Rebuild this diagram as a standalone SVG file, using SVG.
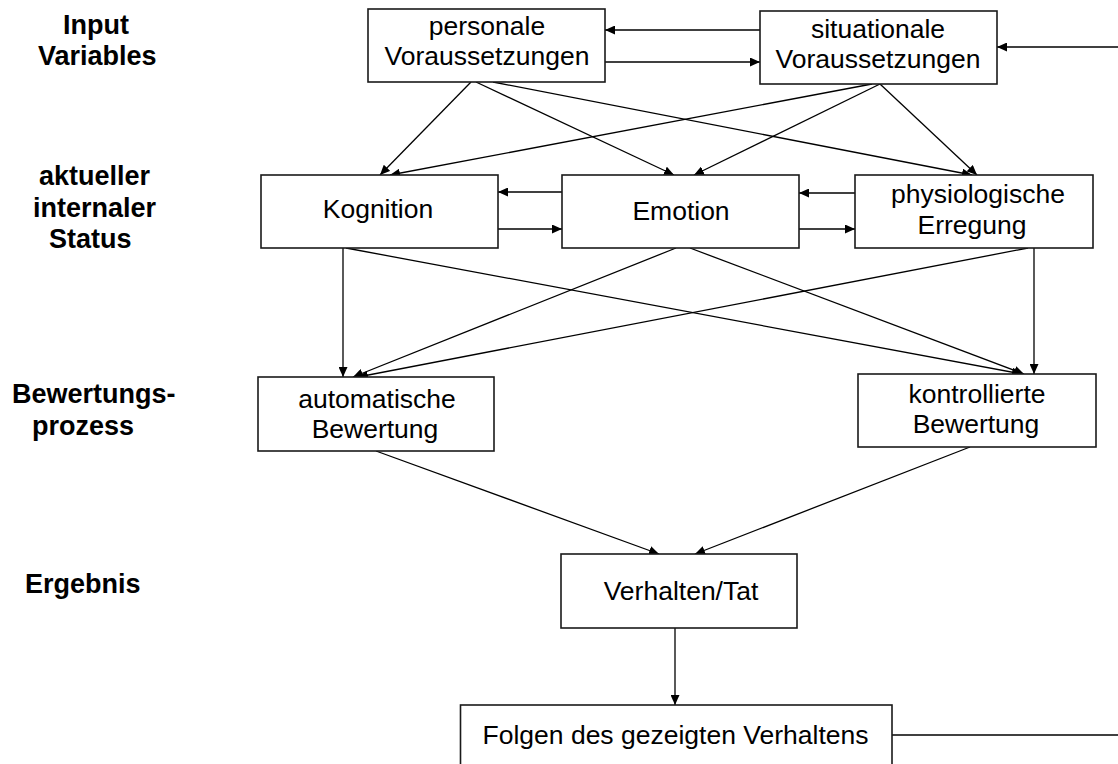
<svg xmlns="http://www.w3.org/2000/svg" width="1118" height="764" viewBox="0 0 1118 764">
<style>
.box{fill:#fff;stroke:#1a1a1a;stroke-width:1.6}
.t{font-family:"Liberation Sans",Arial,sans-serif;font-size:26.5px;fill:#000;text-anchor:middle}
.lbl{font-family:"Liberation Sans",Arial,sans-serif;font-size:27px;font-weight:bold;fill:#000}
.c{fill:none;stroke:#000;stroke-width:1.3}
.a{marker-end:url(#ah)}
</style>
<defs>
<marker id="ah" markerUnits="userSpaceOnUse" markerWidth="10" markerHeight="9" refX="10" refY="4.5" orient="auto">
<path d="M0,0 L10,4.5 L0,9 z" fill="#000"/>
</marker>
</defs>
<rect width="1118" height="764" fill="#fff"/>
<g id="labels">
<text class="lbl" x="63" y="34">Input</text>
<text class="lbl" x="38" y="65">Variables</text>
<text class="lbl" x="39" y="185">aktueller</text>
<text class="lbl" x="33" y="217">internaler</text>
<text class="lbl" x="49" y="248">Status</text>
<text class="lbl" x="12" y="403">Bewertungs-</text>
<text class="lbl" x="32" y="435">prozess</text>
<text class="lbl" x="25" y="593">Ergebnis</text>
</g>
<g id="connectors">
<line class="c a" x1="760" y1="30" x2="605" y2="30"/>
<line class="c a" x1="605" y1="62" x2="760" y2="62"/>
<line class="c a" x1="1118" y1="47" x2="997" y2="47"/>
<line class="c a" x1="471" y1="82" x2="380" y2="175"/>
<line class="c a" x1="476" y1="82" x2="674" y2="175"/>
<line class="c a" x1="493" y1="82" x2="972" y2="175"/>
<line class="c a" x1="872" y1="84" x2="390" y2="175"/>
<line class="c a" x1="880" y1="84" x2="694" y2="175"/>
<line class="c a" x1="880" y1="84" x2="977" y2="175"/>
<line class="c a" x1="562" y1="192" x2="498" y2="192"/>
<line class="c a" x1="498" y1="229" x2="562" y2="229"/>
<line class="c a" x1="855" y1="193" x2="799" y2="193"/>
<line class="c a" x1="799" y1="229" x2="855" y2="229"/>
<line class="c a" x1="343" y1="248" x2="343" y2="377"/>
<line class="c a" x1="676" y1="248" x2="353" y2="377"/>
<line class="c a" x1="1028" y1="248" x2="358" y2="377"/>
<line class="c a" x1="346" y1="248" x2="1022" y2="374"/>
<line class="c a" x1="690" y1="248" x2="1024" y2="374"/>
<line class="c a" x1="1034" y1="248" x2="1034" y2="374"/>
<line class="c a" x1="376" y1="451" x2="659" y2="554"/>
<line class="c a" x1="970" y1="447" x2="695" y2="554"/>
<line class="c a" x1="675" y1="628" x2="675" y2="705"/>
<line class="c" x1="892" y1="735" x2="1118" y2="735"/>
</g>
<g id="personale">
<rect class="box" x="368" y="9" width="237" height="73"/>
<text class="t" x="487" y="35">personale</text>
<text class="t" x="487" y="65">Voraussetzungen</text>
</g>
<g id="situationale">
<rect class="box" x="760" y="11" width="237" height="73"/>
<text class="t" x="878" y="38">situationale</text>
<text class="t" x="878" y="68">Voraussetzungen</text>
</g>
<g id="kognition">
<rect class="box" x="261" y="175" width="237" height="73"/>
<text class="t" x="378" y="218">Kognition</text>
</g>
<g id="emotion">
<rect class="box" x="562" y="175" width="237" height="73"/>
<text class="t" x="681" y="220">Emotion</text>
</g>
<g id="physio">
<rect class="box" x="855" y="175" width="238" height="73"/>
<text class="t" x="978" y="203">physiologische</text>
<text class="t" x="972" y="234">Erregung</text>
</g>
<g id="automatische">
<rect class="box" x="258" y="377" width="236" height="74"/>
<text class="t" x="377" y="408">automatische</text>
<text class="t" x="375" y="438">Bewertung</text>
</g>
<g id="kontrollierte">
<rect class="box" x="858" y="374" width="238" height="73"/>
<text class="t" x="977" y="403">kontrollierte</text>
<text class="t" x="976" y="433">Bewertung</text>
</g>
<g id="verhalten">
<rect class="box" x="561" y="554" width="236" height="74"/>
<text class="t" x="681" y="600">Verhalten/Tat</text>
</g>
<g id="folgen">
<rect class="box" x="460.5" y="705" width="431.5" height="80"/>
<text class="t" x="675.5" y="744">Folgen des gezeigten Verhaltens</text>
</g>
</svg>
